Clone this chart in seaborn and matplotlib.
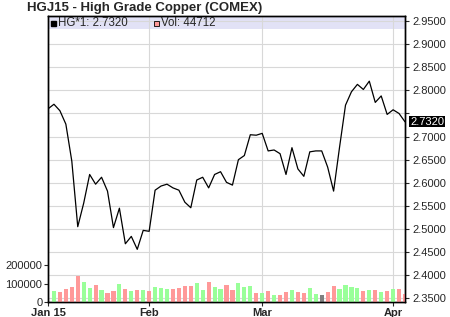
import matplotlib
matplotlib.use("Agg")
import matplotlib.pyplot as plt
from matplotlib.patches import Rectangle
import seaborn as sns
import pandas as pd
import numpy as np

# -------------------------
# data
# -------------------------
title = "HGJ15 - High Grade Copper (COMEX)"
holidays = ["2015-01-19", "2015-02-16", "2015-04-03"]

# daily settle, one value per trading day (Jan 7 .. Apr 6)
price = [2.760, 2.770, 2.756, 2.727, 2.647, 2.505, 2.556, 2.618, 2.597, 2.612,
         2.582, 2.503, 2.545, 2.468, 2.484, 2.456, 2.497, 2.495, 2.584, 2.593,
         2.597, 2.589, 2.584, 2.558, 2.546, 2.606, 2.612, 2.589, 2.618, 2.624,
         2.601, 2.595, 2.650, 2.659, 2.704, 2.703, 2.707, 2.669, 2.671, 2.663,
         2.618, 2.676, 2.630, 2.614, 2.667, 2.669, 2.669, 2.634, 2.582, 2.677,
         2.768, 2.797, 2.813, 2.802, 2.820, 2.774, 2.788, 2.748, 2.758, 2.750,
         2.732]

# volume, from the second trading day on
volume = [60500, 55200, 73100, 82400, 141800, 108900, 77300, 92600, 66100, 49400,
          60200, 97800, 73300, 60400, 65900, 66300, 60100, 82200, 77400, 72800,
          73200, 77100, 87900, 88200, 104300, 65800, 108700, 82300, 72900, 92800,
          67300, 104100, 82100, 87700, 49200, 48900, 60300, 38400, 38200, 55100,
          66200, 54800, 49300, 76900, 44200, 38300, 55300, 87600, 71200, 92900,
          82300, 76800, 60200, 65800, 66100, 54900, 60400, 71300, 70800, 44712]

price_ticks = [2.35, 2.40, 2.45, 2.50, 2.55, 2.60, 2.65, 2.70, 2.75, 2.80, 2.85, 2.90, 2.95]
vol_ticks = [0, 100000, 200000]

up_col, down_col, flat_col = "#99ff99", "#ff9999", "#808080"

# -------------------------
# build frames
# -------------------------
dates = pd.bdate_range("2015-01-07", "2015-04-06")
dates = dates[~dates.isin(pd.to_datetime(holidays))]
pos = np.arange(len(dates))

price_df = pd.DataFrame({"pos": pos, "price": price})
chg = np.diff(price)
move = np.where(chg > 0, "up", np.where(chg < 0, "down", "flat"))
vol_df = pd.DataFrame({"pos": pos[1:], "vol": volume, "move": move})

month_first = pd.Series(pos, index=dates).groupby([dates.year, dates.month]).first()
month_pos = list(month_first.values)
month_labels = [dates[p].strftime("%b %y") if i == 0 else dates[p].strftime("%b")
                for i, p in enumerate(month_pos)]

# -------------------------
# plot
# -------------------------
sns.set_style("white")
plt.rcParams["font.family"] = ["Liberation Sans", "DejaVu Sans"]

fig = plt.figure(figsize=(4.5, 3.17), dpi=100)
ax = fig.add_axes([48 / 450, 15 / 317, 357 / 450, 286 / 317])
ax_vol = ax.twinx()

# legend band at the top
band_h = 13 / 286
ax.add_patch(Rectangle((0, 1 - band_h), 1, band_h, transform=ax.transAxes,
                       facecolor="#e2e2f6", edgecolor="none", zorder=0))

sns.lineplot(data=price_df, x="pos", y="price", ax=ax, color="black", linewidth=0.9)

sns.barplot(data=vol_df, x="pos", y="vol", hue="move",
            palette={"up": up_col, "down": down_col, "flat": flat_col},
            native_scale=True, dodge=False, width=0.7, errorbar=None,
            saturation=1, linewidth=0, legend=False, ax=ax_vol)

ax.set_xlim(0, len(dates) - 1)
ax.set_ylim(2.342, 2.961)
ax_vol.set_ylim(0, 1.563e6)
ax_vol.patch.set_visible(False)

ax.set_axisbelow(True)
ax.grid(True, color="#d8d8d8", linewidth=0.8)
ax_vol.grid(False)

ax.set_xticks(month_pos)
ax.set_xticklabels(month_labels, fontweight="bold", fontsize=8)
ax.tick_params(axis="x", length=3, width=0.8, pad=1.5, bottom=True)

ax.yaxis.tick_right()
ax.set_yticks(price_ticks)
ax.set_yticklabels(["" if abs(t - 2.75) < 1e-9 else f"{t:.4f}" for t in price_ticks])
ax.tick_params(axis="y", right=True, left=False, length=3, width=0.8, pad=2, labelsize=8)

ax_vol.yaxis.tick_left()
ax_vol.set_yticks(vol_ticks)
ax_vol.set_yticklabels([str(v) for v in vol_ticks])
ax_vol.tick_params(axis="y", left=True, right=False, length=3, width=0.8, pad=1, labelsize=8)

for a in (ax, ax_vol):
    a.set_xlabel("")
    a.set_ylabel("")
    for s in a.spines.values():
        s.set_color("black")
        s.set_linewidth(1)

# last price marker on the right axis
last = price[-1]
ax.annotate(f"{last:.4f}", xy=(1, last), xycoords=("axes fraction", "data"),
            xytext=(5, 0), textcoords="offset pixels", ha="left", va="center",
            color="white", fontsize=8,
            bbox=dict(facecolor="black", edgecolor="none", pad=0.5))

# legend entries
ly = 1 - 7.2 / 286
ax.plot([0.014], [ly], marker="s", markersize=3.6, color="black",
        transform=ax.transAxes, clip_on=False)
ax.text(0.027, ly, f"HG*1: {last:.4f}", transform=ax.transAxes,
        va="center", ha="left", fontsize=8.3)
ax.plot([0.3025], [ly], marker="s", markersize=3.6, markerfacecolor=down_col,
        markeredgecolor="black", markeredgewidth=0.6, transform=ax.transAxes, clip_on=False)
ax.text(0.3165, ly, f"Vol: {volume[-1]}", transform=ax.transAxes,
        va="center", ha="left", fontsize=8.3)

fig.text(27 / 450, 1 - 7.5 / 317, title, fontsize=9.5, fontweight="bold",
         ha="left", va="center")

fig.savefig("out.png", dpi=100)
